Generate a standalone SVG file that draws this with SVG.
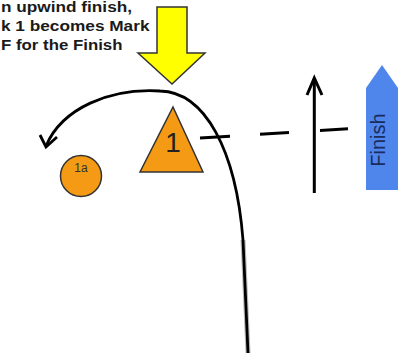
<svg xmlns="http://www.w3.org/2000/svg" width="398" height="356" viewBox="0 0 398 356">
<style>
.cap{font-family:"Liberation Sans",Arial,sans-serif;font-weight:bold;font-size:14.5px;fill:#1a1a1a}
.mark{fill:#f59a14;stroke:#333;stroke-width:1.5}
.ln{fill:none;stroke:#000;stroke-width:3;stroke-linecap:butt}
.path{fill:none;stroke:#000;stroke-width:2.8}
</style>
<rect width="398" height="356" fill="#fff"/>
<g id="caption">
<text class="cap" x="1" y="11.5" textLength="131" lengthAdjust="spacingAndGlyphs">n upwind finish,</text>
<text class="cap" x="1" y="31" textLength="148.5" lengthAdjust="spacingAndGlyphs">k 1 becomes Mark</text>
<text class="cap" x="1" y="50" textLength="121.5" lengthAdjust="spacingAndGlyphs">F for the Finish</text>
</g>
<g id="yellow-arrow">
<polygon points="157,7 187,7 187,53 205,53 172,84 138,53 157,53" fill="#ffff00" stroke="#333" stroke-width="1.5" stroke-linejoin="miter"/>
</g>
<g id="connectors">
<path d="M243,240 L248,353" fill="none" stroke="#888" stroke-width="5" opacity="0.6"/>
<path class="path" d="M46,146 C62,108 110,88 160,91 C205,92 236,150 243,240 L248,353"/>
<polyline class="path" points="40,135 46,147 57,137" stroke-linejoin="miter"/>
<line class="ln" x1="200" y1="138" x2="230" y2="136.2"/>
<line class="ln" x1="260" y1="134.3" x2="289" y2="132.5"/>
<line class="ln" x1="320" y1="130.5" x2="348" y2="128.8"/>
<line class="ln" x1="314.3" y1="193" x2="314.3" y2="79"/>
<polyline class="ln" points="307,95 314.3,78 322,95" stroke-linejoin="miter"/>
</g>
<g id="mark-1">
<polygon class="mark" points="173,107 203,172 140,172"/>
<text x="173" y="152" text-anchor="middle" font-family="'Liberation Sans',Arial,sans-serif" font-size="28" fill="#222">1</text>
</g>
<g id="mark-1a">
<circle class="mark" cx="81" cy="176" r="20.5"/>
<text x="81" y="172" text-anchor="middle" font-family="'Liberation Sans',Arial,sans-serif" font-size="12" fill="#333">1a</text>
</g>
<g id="finish">
<polygon points="366,88 382,65 398,88 398,190 366,190" fill="#4f86ec"/>
<text transform="translate(385,140) rotate(-90)" x="0" y="0" text-anchor="middle" font-family="'Liberation Sans',Arial,sans-serif" font-size="20" fill="#1a2b5c">Finish</text>
</g>
</svg>
